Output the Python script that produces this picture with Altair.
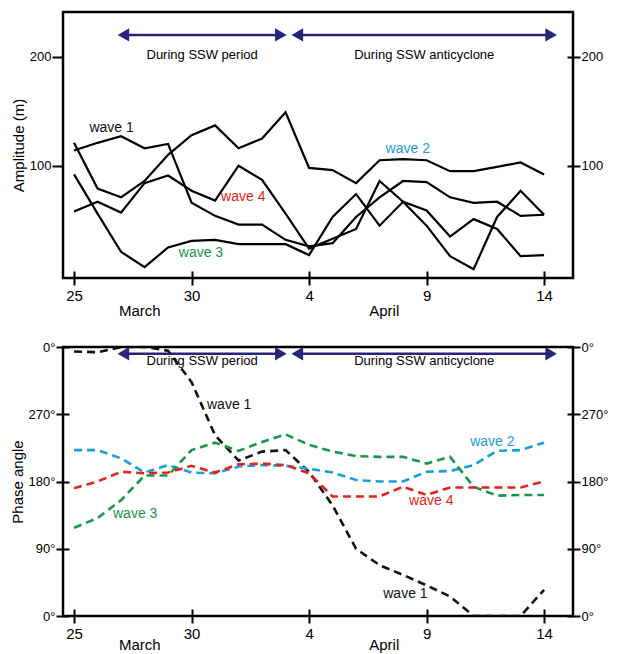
import altair as alt
import pandas as pd

# ---- data (day 0 = 25 March ... day 20 = 14 April) ----
days = list(range(21))
amp_w1 = [114, 121, 127, 116, 120, 66, 54, 46, 46, 32, 26, 29, 53, 71, 86, 85, 71, 66, 67, 54, 55]
amp_w2 = [121, 79, 71, 86, 110, 128, 137, 116, 125, 149, 98, 96, 84, 105, 106, 105, 95, 95, 99, 103, 92]
amp_w3 = [92, 56, 21, 7, 25, 31, 32, 28, 28, 28, 18, 53, 74, 45, 67, 59, 35, 51, 42, 17, 18]
amp_w4 = [58, 67, 57, 84, 91, 77, 68, 100, 87, 56, 24, 33, 42, 86, 67, 45, 17, 5, 53, 77, 55]

ph_w1 = [354, 353, 360, 360, 355, 313, 242, 208, 220, 222, 193, 148, 90, 68, 55, 41, 26, 0, 0, 0, 35]
ph_w2 = [222, 222, 211, 192, 202, 192, 191, 200, 202, 201, 197, 192, 182, 180, 180, 193, 194, 202, 221, 222, 232]
ph_w3 = [118, 131, 155, 188, 188, 222, 232, 221, 233, 243, 229, 220, 214, 213, 213, 204, 213, 173, 161, 162, 162]
ph_w4 = [171, 180, 193, 191, 192, 201, 192, 203, 204, 202, 191, 160, 160, 160, 173, 162, 172, 172, 172, 172, 180]

tick_days = [0, 5, 10, 15, 20]
tick_labels = ["25", "30", "4", "9", "14"]
month_names = ["March", "April"]
month_pos = [2.8, 13.2]

period_labels = ["During SSW period", "During SSW anticyclone"]
period_start = [2.1, 9.5]
period_end = [8.8, 20.3]

wave_names = ["wave 1", "wave 2", "wave 3", "wave 4"]
wave_colors = ["#111111", "#1a9ddb", "#17954a", "#e3231b"]

# label positions (day, value)
amp_lab_day = [1.6, 14.2, 5.4, 7.2]
amp_lab_val = [135, 115, 20, 71]
ph_lab_names = ["wave 1", "wave 2", "wave 3", "wave 4", "wave 1"]
ph_lab_colors = ["#111111", "#1a9ddb", "#17954a", "#e3231b", "#111111"]
ph_lab_day = [6.6, 17.8, 2.6, 15.2, 14.1]
ph_lab_val = [283, 233, 137, 154, 29]

FONT = "Liberation Sans"
NAVY = "#2b2379"
W, H1, H2 = 510, 266, 269
XDOM = [-0.47, 21.23]

label_expr = "{" + ",".join(f"'{d}':'{l}'" for d, l in zip(tick_days, tick_labels)) + "}[datum.value]"
XSCALE = alt.Scale(domain=XDOM, nice=False, zero=False)
XAXIS = alt.Axis(values=tick_days, labelExpr=label_expr, title=None, grid=False,
                 domain=False, tickSize=14, offset=-7, tickWidth=2, tickColor="black",
                 labelFontSize=15, labelColor="black", labelPadding=3, labelFont=FONT)


def xq(field):
    return alt.X(f"{field}:Q", scale=XSCALE, axis=XAXIS)


def long_df(series):
    rows = []
    for name, vals in zip(wave_names, series):
        for d, v in zip(days, vals):
            rows.append({"day": d, "val": v, "wave": name})
    return pd.DataFrame(rows)


def panel(series, ydom, height, yticks, ylabelexpr, ytitle, lab_df, arrow_y, text_y, dashed,
          month_gap, left_cross):
    df = long_df(series)
    yscale = alt.Scale(domain=ydom, nice=False, zero=False)
    axis_common = dict(values=yticks, grid=False, domain=False, tickWidth=2,
                       tickColor="black", labelFontSize=13, labelColor="black", labelFont=FONT,
                       labelPadding=1)
    if ylabelexpr:
        axis_common["labelExpr"] = ylabelexpr
    left_ticks = dict(tickSize=13, offset=-6) if left_cross else dict(tickSize=11, offset=0)
    left_axis = alt.Axis(orient="left", title=ytitle, titleFontSize=15, titleFont=FONT,
                         titleFontWeight="normal", titleColor="black", titlePadding=3,
                         **left_ticks, **axis_common)
    if dashed:
        lines = alt.Chart(df).mark_line(strokeWidth=2.6, strokeDash=[8, 5], clip=True).encode(
            x=xq("day"),
            y=alt.Y("val:Q", scale=yscale, axis=left_axis),
            color=alt.Color("wave:N", scale=alt.Scale(domain=wave_names, range=wave_colors), legend=None),
        )
    else:
        lines = alt.Chart(df).mark_line(strokeWidth=2.2, color="black", clip=True).encode(
            x=xq("day"),
            y=alt.Y("val:Q", scale=yscale, axis=left_axis),
            detail="wave:N",
        )
    right = alt.Chart(df).mark_line(opacity=0).encode(
        x=xq("day"),
        y=alt.Y("val:Q", scale=yscale, axis=alt.Axis(orient="right", title=None, tickSize=13,
                                                      offset=-6, **axis_common)),
        detail="wave:N",
    )
    labs = alt.Chart(lab_df).mark_text(fontSize=14, font=FONT).encode(
        x=xq("day"),
        y=alt.Y("val:Q", scale=yscale, axis=None),
        text="name:N",
        color=alt.Color("color:N", scale=None),
    )
    per = pd.DataFrame({"start": period_start, "end": period_end, "label": period_labels,
                        "ay": [arrow_y] * 2, "ty": [text_y] * 2,
                        "mid": [(a + b) / 2 for a, b in zip(period_start, period_end)]})
    rule = alt.Chart(per).mark_rule(color=NAVY, strokeWidth=2.5).encode(
        x=xq("start"), x2="end:Q", y=alt.Y("ay:Q", scale=yscale, axis=None))
    headl = alt.Chart(per).mark_point(shape="triangle-left", filled=True, size=180, color=NAVY, opacity=1).encode(
        x=xq("start"), y=alt.Y("ay:Q", scale=yscale, axis=None))
    headr = alt.Chart(per).mark_point(shape="triangle-right", filled=True, size=180, color=NAVY, opacity=1).encode(
        x=xq("end"), y=alt.Y("ay:Q", scale=yscale, axis=None))
    ptext = alt.Chart(per).mark_text(fontSize=13, font=FONT, color="black").encode(
        x=xq("mid"), y=alt.Y("ty:Q", scale=yscale, axis=None), text="label:N")
    months = alt.Chart(pd.DataFrame({"day": month_pos, "m": month_names})).mark_text(
        fontSize=15, font=FONT, color="black", baseline="top").encode(
        x=xq("day"), y=alt.value(height + month_gap), text="m:N")
    return alt.layer(lines, right, labs, rule, headl, headr, ptext, months).resolve_axis(
        y="independent").properties(width=W, height=height)


amp_labs = pd.DataFrame({"day": amp_lab_day, "val": amp_lab_val, "name": wave_names, "color": wave_colors})
ph_labs = pd.DataFrame({"day": ph_lab_day, "val": ph_lab_val, "name": ph_lab_names, "color": ph_lab_colors})

top = panel([amp_w1, amp_w2, amp_w3, amp_w4], [-3, 241], H1, [100, 200], None, "Amplitude (m)",
            amp_labs, 220, 202, False, 26, False)
bottom = panel([ph_w1, ph_w2, ph_w3, ph_w4], [0, 360], H2, [0, 90, 180, 270, 360],
               "datum.value == 360 ? '0°' : datum.value + '°'", "Phase angle",
               ph_labs, 351, 341, True, 22, True)

chart = alt.vconcat(top, bottom, spacing=18).properties(
    padding={"left": 0, "top": 2, "right": 0, "bottom": 0}
).configure(background="white").configure_view(stroke="black", strokeWidth=2.5)

chart.save("out.html", embed_options={"renderer": "svg", "actions": False})
